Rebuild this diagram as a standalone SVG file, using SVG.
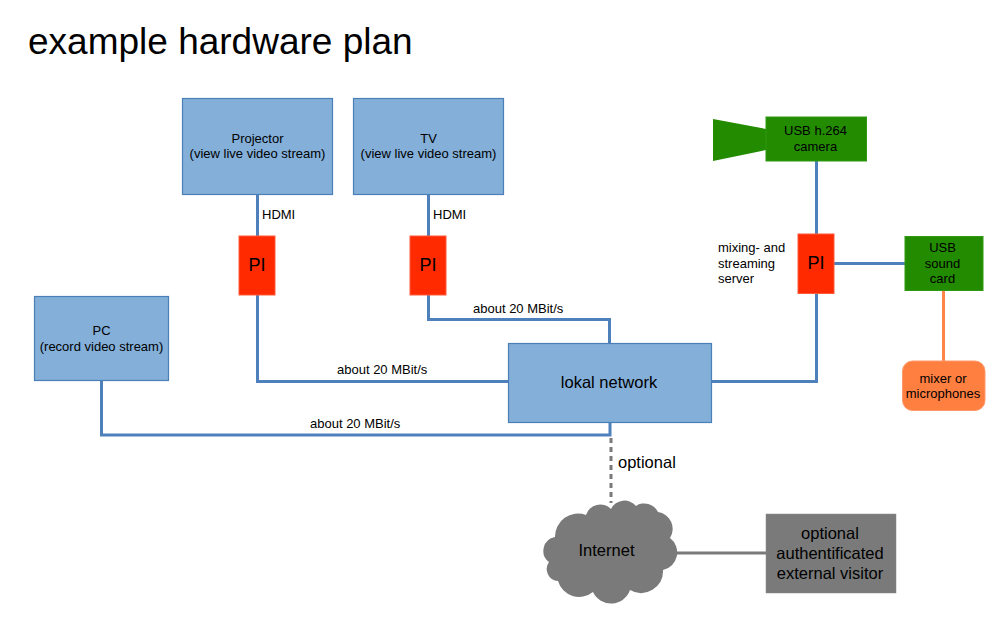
<svg xmlns="http://www.w3.org/2000/svg" width="1000" height="625" viewBox="0 0 1000 625">
<style>
text{font-family:"Liberation Sans",Arial,sans-serif;fill:#000;text-anchor:middle}
.s{font-size:13px}
.m{font-size:16.5px}
.st{text-anchor:start}
.box{fill:#83afd9;stroke:#4a7fb8;stroke-width:1.2}
.pi{fill:#ff2a00;stroke:#ff5a3c;stroke-width:1}
.gr{fill:#238b00;stroke:#2f9a10;stroke-width:1}
.c{fill:none;stroke:#4e81bb;stroke-width:3}
</style>
<rect width="1000" height="625" fill="#fff"/>
<text id="title" x="28" y="54" class="st" font-size="37">example hardware plan</text>
<g id="connectors">
<path class="c" d="M257.500 194V236M257.500 295V381.500H508"/>
<path class="c" d="M428.500 194V236M428.500 295V319.500H609.500V343"/>
<path class="c" d="M101.500 380V435H610V422"/>
<path class="c" d="M711 381.500H816.500V294M816.500 161V234M834 263.500H905"/>
<path fill="none" stroke="#ff8549" stroke-width="3" d="M943.500 291V361"/>
<path fill="none" stroke="#7a7a7a" stroke-width="3" stroke-dasharray="5 4" d="M611 438V503"/>
<path fill="none" stroke="#7a7a7a" stroke-width="3" d="M675 553H766"/>
</g>
<g id="projector"><rect class="box" x="182.500" y="98.500" width="150" height="96"/><text class="s" x="257.500" y="143">Projector</text><text class="s" x="257.500" y="158">(view live video stream)</text></g>
<g id="tv"><rect class="box" x="353.500" y="98.500" width="150" height="96"/><text class="s" x="428.500" y="143">TV</text><text class="s" x="428.500" y="158">(view live video stream)</text></g>
<g id="pc"><rect class="box" x="34.500" y="296.500" width="134" height="84"/><text class="s" x="101.500" y="335">PC</text><text class="s" x="101.500" y="351">(record video stream)</text></g>
<g id="network"><rect class="box" x="508.500" y="343.500" width="203" height="79"/><text class="m" x="609" y="388">lokal network</text></g>
<g id="pi1"><rect class="pi" x="239" y="236" width="36" height="59"/><text x="257" y="271" font-size="18">PI</text></g>
<g id="pi2"><rect class="pi" x="410" y="236" width="36" height="59"/><text x="428" y="271" font-size="18">PI</text></g>
<g id="pi3"><rect class="pi" x="798" y="234" width="36" height="59.500"/><text x="816" y="269" font-size="18">PI</text></g>
<g id="camera"><polygon fill="#238b00" points="713,119 766,129 766,150 713,161"/><rect class="gr" x="766" y="117" width="100.500" height="44"/><text class="s" x="815.500" y="135">USB h.264</text><text class="s" x="815.500" y="151">camera</text></g>
<g id="soundcard"><rect class="gr" x="905" y="236.500" width="78" height="54"/><text class="s" x="942.500" y="252">USB</text><text class="s" x="942.500" y="268">sound</text><text class="s" x="942.500" y="283">card</text></g>
<g id="mixer"><rect x="902.500" y="361" width="82.500" height="49.500" rx="10" fill="#ff7f41" stroke="#ff9a6c"/><text class="s" x="943" y="383">mixer or</text><text class="s" x="943" y="398">microphones</text></g>
<g id="internet"><path fill="#7a7a7a" d="M555 537A23 23 0 0 1 586 515A15 15 0 0 1 611 509A15 15 0 0 1 636 506A15 15 0 0 1 658 512A17 17 0 0 1 670 538A18 18 0 0 1 663 570A22 22 0 0 1 630 590A20 20 0 0 1 593 592A22 22 0 0 1 558 581A12 12 0 0 1 549 562A14 14 0 0 1 555 537Z"/><text x="606.500" y="556" font-size="16.500">Internet</text></g>
<g id="visitor"><rect x="766" y="514" width="130" height="79" fill="#7a7a7a" stroke="#8a8a8a" stroke-width="0.500"/><text class="m" x="830" y="539">optional</text><text class="m" x="830" y="559">authentificated</text><text class="m" x="830" y="579">external visitor</text></g>
<g id="labels">
<text class="s st" x="262" y="219">HDMI</text>
<text class="s st" x="433" y="219">HDMI</text>
<text class="s st" x="473" y="313">about 20 MBit/s</text>
<text class="s st" x="337" y="374">about 20 MBit/s</text>
<text class="s st" x="310" y="428">about 20 MBit/s</text>
<text class="s st" x="718" y="252">mixing- and</text>
<text class="s st" x="718" y="268">streaming</text>
<text class="s st" x="718" y="283">server</text>
<text class="m st" x="618" y="468">optional</text>
</g>
</svg>
